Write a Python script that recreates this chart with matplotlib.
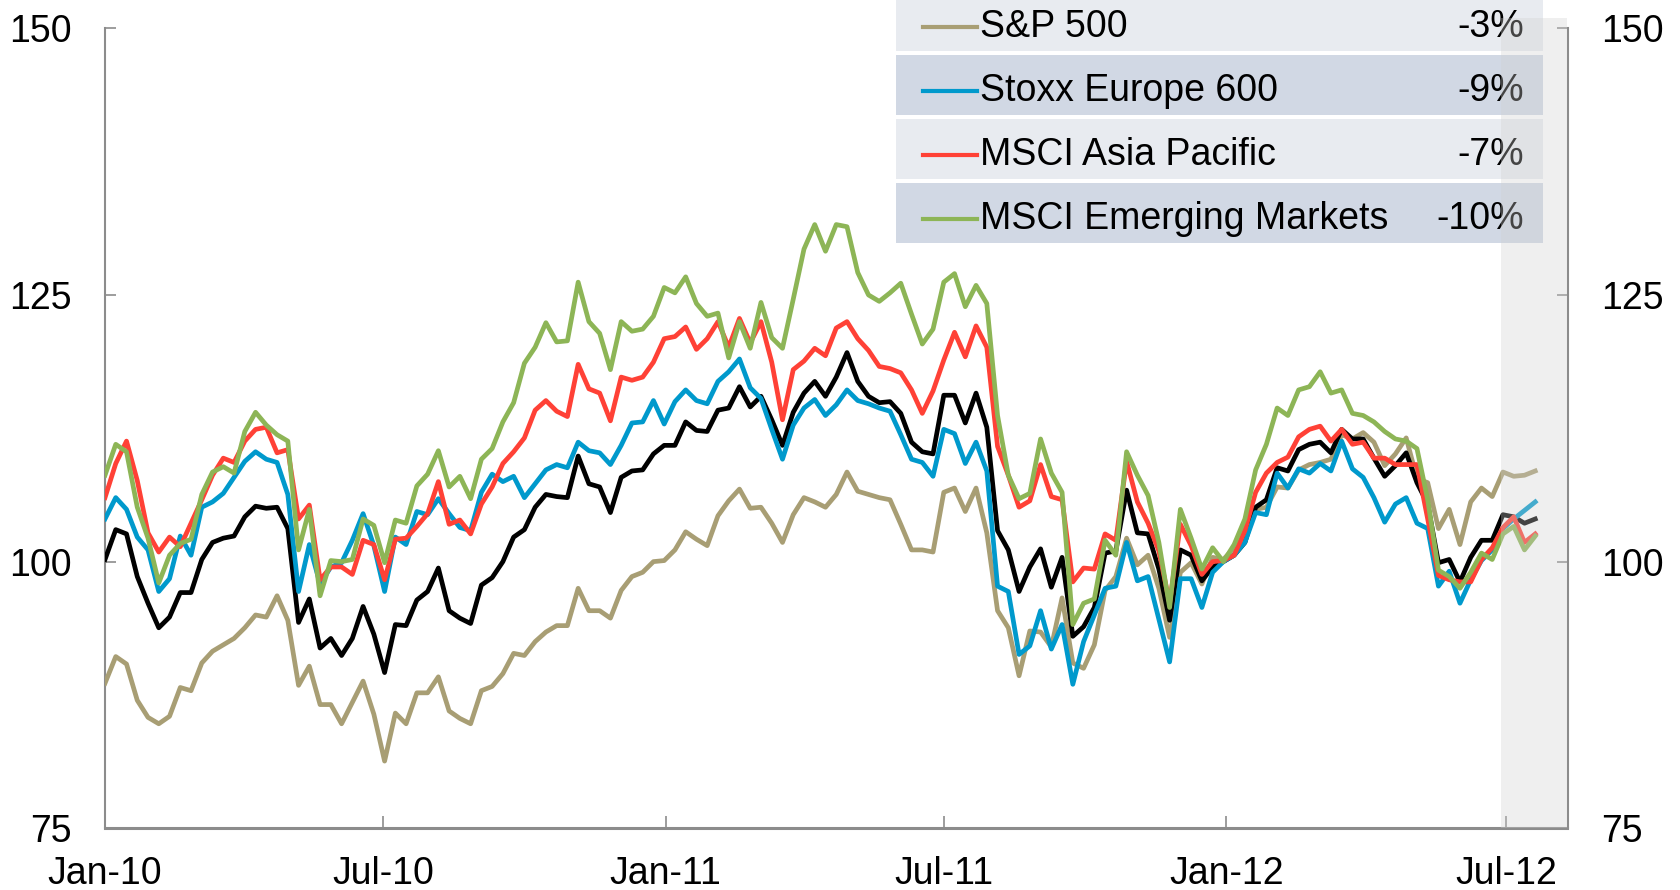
import numpy as np
import pandas as pd
import matplotlib
matplotlib.use('Agg')
import matplotlib.pyplot as plt
import matplotlib.dates as mdates
from matplotlib.patches import Rectangle
from matplotlib.lines import Line2D
from matplotlib.transforms import blended_transform_factory

plt.rcParams['font.family'] = ['Liberation Sans', 'DejaVu Sans']

# ---------------- data ----------------
dates = pd.date_range('2010-01-01', periods=134, freq='7D')

world = [100.2, 103.0, 102.6, 98.6, 96.1, 93.8, 94.8, 97.1, 97.1, 100.2, 101.8, 102.2, 102.4, 104.2, 105.2, 105.0, 105.1, 103.1, 94.3, 96.5, 91.9, 92.8, 91.2,
         92.8, 95.8, 93.2, 89.6, 94.1, 94.0, 96.4, 97.2, 99.4, 95.4, 94.7, 94.2, 97.8, 98.5, 100.0, 102.3, 103.0, 105.1, 106.3, 106.1, 106.0, 109.9,
         107.3, 107.0, 104.6, 107.9, 108.5, 108.6, 110.1, 110.9, 110.9, 113.1, 112.3, 112.2, 114.2, 114.4, 116.4, 114.5, 115.5, 113.3, 110.9, 114.0, 115.8, 116.9,
         115.5, 117.3, 119.6, 116.9, 115.5, 114.9, 115.0, 113.9, 111.2, 110.3, 110.1, 115.6, 115.6, 113.0, 115.8, 112.6, 102.9, 101.1, 97.2, 99.5, 101.2, 97.6,
         100.4, 93.0, 93.9, 95.7, 100.8, 101.0, 106.7, 102.7, 102.6, 99.3, 94.5, 101.1, 100.6, 98.2, 99.5, 100.0, 100.6, 101.8, 105.1, 105.8, 108.8, 108.5, 110.5,
         111.0, 111.2, 110.2, 112.4, 111.5, 111.5, 109.7, 108.0, 109.0, 110.2, 107.4, 105.4, 99.9, 100.2, 98.1, 100.4, 102.0, 102.0, 104.4, 104.2, 103.6, 104.0]

sp500 = [88.6, 91.1, 90.4, 87.0, 85.4, 84.8, 85.5, 88.2, 87.9, 90.5, 91.6, 92.2, 92.8, 93.8, 95.0, 94.8, 96.8, 94.5, 88.4, 90.2, 86.6, 86.6, 84.8,
         86.8, 88.8, 85.7, 81.3, 85.8, 84.8, 87.7, 87.7, 89.2, 86.0, 85.3, 84.8, 87.9, 88.3, 89.5, 91.4, 91.2, 92.5, 93.4, 94.0, 94.0, 97.5,
         95.4, 95.4, 94.7, 97.3, 98.6, 99.0, 100.0, 100.1, 101.1, 102.8, 102.1, 101.5, 104.3, 105.7, 106.8, 105.0, 105.1, 103.6, 101.8, 104.4, 106.0, 105.6,
         105.1, 106.3, 108.4, 106.6, 106.3, 106.0, 105.8, 103.5, 101.1, 101.1, 100.9, 106.5, 106.9, 104.7, 106.9, 102.7, 95.4, 93.8, 89.3, 93.5, 93.4, 92.0,
         96.6, 90.5, 90.0, 92.2, 97.3, 98.6, 102.2, 99.7, 100.6, 97.5, 92.9, 99.0, 99.9, 97.9, 100.4, 100.2, 101.3, 103.3, 104.9, 105.1, 107.0, 106.9, 108.6,
         109.1, 109.3, 109.6, 111.9, 111.5, 112.1, 111.2, 109.0, 110.1, 111.6, 107.8, 107.4, 103.1, 104.9, 101.6, 105.6, 106.9, 106.1, 108.4, 108.0, 108.1, 108.5]

stoxx600 = [104.0, 106.0, 104.9, 102.3, 101.1, 97.2, 98.4, 102.4, 100.6, 105.1, 105.6, 106.4, 107.9, 109.4, 110.3, 109.6, 109.3, 106.3, 97.2, 101.6, 97.9, 99.5, 99.9,
            102.0, 104.5, 101.5, 97.2, 102.3, 101.6, 104.7, 104.4, 105.9, 104.5, 103.2, 102.9, 106.5, 108.2, 107.5, 108.0, 106.0, 107.3, 108.6, 109.1, 108.8, 111.2,
            110.4, 110.2, 109.1, 110.9, 113.0, 113.1, 115.1, 112.9, 115.0, 116.1, 115.1, 114.8, 116.9, 117.8, 119.0, 116.3, 115.3, 112.4, 109.6, 112.8, 114.4, 115.2,
            113.7, 114.7, 116.1, 115.1, 114.8, 114.4, 114.1, 111.9, 109.6, 109.3, 108.0, 112.4, 112.0, 109.2, 111.2, 108.5, 97.7, 97.2, 91.3, 92.1, 95.4, 91.8,
            94.1, 88.5, 92.5, 95.0, 97.5, 97.7, 101.8, 98.2, 98.6, 94.6, 90.6, 98.4, 98.4, 95.7, 99.0, 100.0, 100.6, 101.8, 104.6, 104.4, 108.3, 106.9, 108.7,
            108.3, 109.2, 108.5, 111.3, 108.7, 107.9, 106.0, 103.7, 105.4, 106.0, 103.6, 103.1, 97.7, 99.1, 96.1, 98.3, 100.1, 101.1, 103.1, 104.0, 104.8, 105.6]

asia_pac = [106.0, 109.2, 111.3, 107.6, 102.7, 100.9, 102.3, 101.4, 103.6, 105.8, 108.1, 109.7, 109.3, 111.3, 112.4, 112.6, 110.2, 110.5, 104.0, 105.3, 98.3, 99.5, 99.5,
            98.8, 102.0, 101.6, 98.3, 102.1, 102.2, 103.3, 104.5, 107.5, 103.5, 103.9, 102.6, 105.4, 107.0, 109.2, 110.3, 111.6, 114.2, 115.1, 114.1, 113.6, 118.5,
            116.2, 115.8, 113.2, 117.3, 117.0, 117.3, 118.7, 120.9, 121.1, 122.0, 119.9, 120.9, 122.5, 120.1, 122.8, 120.5, 122.5, 118.7, 113.3, 118.0, 118.8, 120.0,
            119.3, 121.9, 122.5, 120.9, 119.8, 118.3, 118.1, 117.7, 116.1, 113.9, 116.0, 118.9, 121.5, 119.2, 122.1, 120.1, 110.8, 108.1, 105.1, 105.7, 109.1, 106.1,
            105.8, 98.1, 99.4, 99.3, 102.6, 102.0, 109.4, 105.6, 103.6, 101.0, 96.1, 103.5, 101.5, 98.8, 100.0, 100.1, 100.6, 102.9, 106.5, 108.3, 109.3, 109.8, 111.7,
            112.4, 112.7, 111.3, 112.4, 111.0, 111.2, 109.7, 109.7, 109.1, 109.1, 109.1, 104.0, 98.7, 98.3, 98.1, 98.1, 100.2, 101.3, 103.2, 104.2, 101.8, 102.6]

em = [108.1, 111.0, 110.3, 105.1, 102.2, 98.0, 100.6, 101.7, 102.1, 106.3, 108.4, 108.9, 108.3, 112.2, 114.0, 112.8, 111.9, 111.3, 101.1, 104.9, 96.8, 100.1, 100.0,
      100.2, 104.0, 103.4, 99.9, 103.9, 103.6, 107.1, 108.2, 110.4, 107.0, 108.0, 105.9, 109.6, 110.6, 113.1, 114.9, 118.6, 120.1, 122.4, 120.6, 120.7, 126.2,
      122.5, 121.4, 118.0, 122.5, 121.6, 121.8, 123.0, 125.7, 125.2, 126.7, 124.2, 123.0, 123.3, 119.1, 122.5, 120.0, 124.3, 121.0, 120.0, 124.6, 129.3, 131.6,
      129.1, 131.6, 131.4, 127.1, 125.0, 124.4, 125.2, 126.1, 123.2, 120.4, 121.8, 126.2, 127.0, 123.9, 125.9, 124.2, 113.7, 108.1, 105.9, 106.4, 111.5, 108.3,
      106.5, 94.1, 96.1, 96.5, 102.0, 100.6, 110.3, 108.1, 106.2, 101.8, 95.7, 104.9, 102.2, 99.3, 101.3, 100.0, 101.6, 104.0, 108.6, 111.0, 114.4, 113.7, 116.1,
      116.4, 117.8, 115.8, 116.1, 113.9, 113.7, 113.1, 112.2, 111.5, 111.3, 110.6, 105.8, 99.2, 98.6, 97.5, 99.0, 100.8, 100.2, 102.6, 103.3, 101.1, 102.4]

legend_names = ['S&P 500', 'Stoxx Europe 600', 'MSCI Asia Pacific', 'MSCI Emerging Markets']
legend_changes = ['-3%', '-9%', '-7%', '-10%']
x_tick_dates = ['2010-01-01', '2010-07-01', '2011-01-01', '2011-07-01', '2012-01-01', '2012-07-01']
x_tick_labels = ['Jan-10', 'Jul-10', 'Jan-11', 'Jul-11', 'Jan-12', 'Jul-12']
y_ticks = [75, 100, 125, 150]
x_range = ['2010-01-01', '2012-08-10']
shade_start = '2012-06-28'

# ---------------- styling ----------------
C_TAN = '#A89E74'
C_BLUE = '#0099CC'
C_RED = '#FF4136'
C_GREEN = '#8DB556'
C_BLACK = '#000000'
GRAY = '#8C8C8C'
FS = 27

W, H = 1680, 890
fig = plt.figure(figsize=(W / 100, H / 100), dpi=100)
ax = fig.add_axes([105 / W, 1 - 828.3 / H, (1567.5 - 105) / W, (828.3 - 28.3) / H])

lw = 3.4
ax.plot(dates, sp500, color=C_TAN, lw=lw, zorder=3)
ax.plot(dates, world, color=C_BLACK, lw=lw, zorder=4)
ax.plot(dates, stoxx600, color=C_BLUE, lw=lw, zorder=5)
ax.plot(dates, asia_pac, color=C_RED, lw=lw, zorder=6)
ax.plot(dates, em, color=C_GREEN, lw=lw, zorder=7)

ax.set_xlim(pd.Timestamp(x_range[0]), pd.Timestamp(x_range[1]))
ax.set_ylim(75, 150)
ax.set_yticks(y_ticks)
ax.set_yticklabels([str(v) for v in y_ticks])
ax.set_xticks([pd.Timestamp(d) for d in x_tick_dates])
ax.set_xticklabels(x_tick_labels)

ax.spines['top'].set_visible(False)
for s in ['left', 'right']:
    ax.spines[s].set_color(GRAY)
    ax.spines[s].set_linewidth(1.5)
ax.spines['bottom'].set_color(GRAY)
ax.spines['bottom'].set_linewidth(2.2)

ax.tick_params(axis='y', which='both', direction='in', length=8, width=1.2, color=GRAY,
               left=True, right=True, labelleft=True, labelright=True,
               labelsize=FS, pad=24)
ax.tick_params(axis='x', direction='in', length=9, width=1.2, color=GRAY,
               labelsize=FS, pad=20)

# ---------------- legend table (figure pixel layout) ----------------
def fx(px):
    return px / W

def fy(py):
    return 1 - py / H

row_cols = ['#E8EBF0', '#D1D8E4', '#E8EBF0', '#D1D8E4']
line_cols = [C_TAN, C_BLUE, C_RED, C_GREEN]
box_left, box_right = 896, 1543
row_h, row_gap, row_top0 = 60, 4, -9
for k, (name, chg) in enumerate(zip(legend_names, legend_changes)):
    top = row_top0 + k * (row_h + row_gap)
    bot = top + row_h
    ax.add_patch(Rectangle((fx(box_left), fy(bot)), fx(box_right) - fx(box_left), fy(top) - fy(bot),
                           transform=fig.transFigure, facecolor=row_cols[k], edgecolor='none',
                           clip_on=False, zorder=20))
    cy = (top + bot) / 2 + 6
    ax.add_line(Line2D([fx(923), fx(977)], [fy(cy), fy(cy)], transform=fig.transFigure,
                       color=line_cols[k], lw=3.0, clip_on=False, zorder=21))
    ax.text(fx(980), fy(cy), name, transform=fig.transFigure, fontsize=FS,
            ha='left', va='center', color='black', zorder=22, clip_on=False)
    ax.text(fx(1524), fy(cy), chg, transform=fig.transFigure, fontsize=FS,
            ha='right', va='center', color='black', zorder=22, clip_on=False)

# ---------------- shaded (forecast) overlay ----------------
bt = blended_transform_factory(ax.transData, fig.transFigure)
x0 = mdates.date2num(pd.Timestamp(shade_start))
x1 = mdates.date2num(pd.Timestamp(x_range[1]))
ax.add_patch(Rectangle((x0, fy(828.3)), x1 - x0, fy(18) - fy(828.3), transform=bt,
                       facecolor='#D0D0D0', alpha=0.33, edgecolor='none',
                       clip_on=False, zorder=30))

fig.savefig('out.png', dpi=100)
